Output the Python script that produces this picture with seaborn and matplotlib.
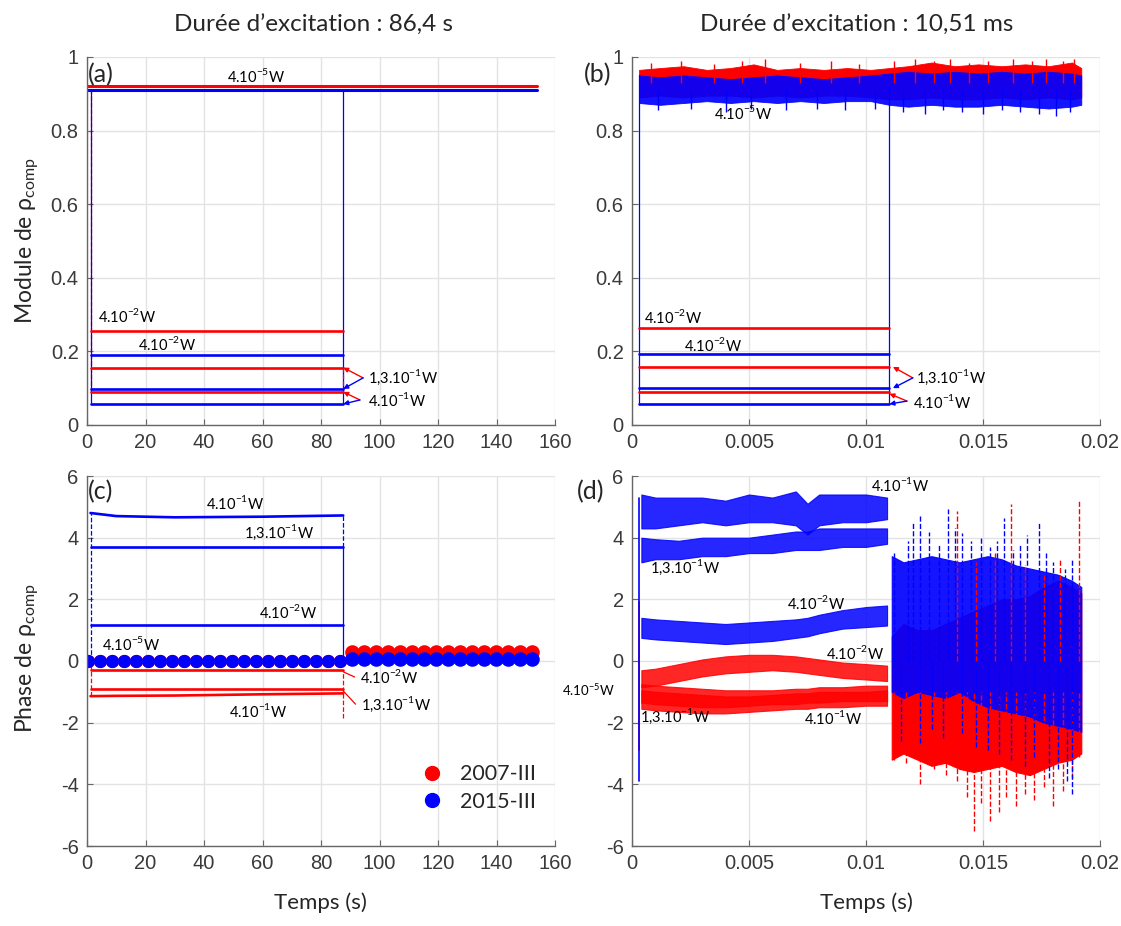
import numpy as np
import matplotlib
matplotlib.use('Agg')
import matplotlib.pyplot as plt
from matplotlib.lines import Line2D
import seaborn as sns

RED = '#ff0000'
BLUE = '#0000ff'

# ---- panel (a) : module, long excitation (levels order: 4e-5, 4e-2, 1.3e-1, 4e-1)
mod_a_red = [0.920, 0.256, 0.156, 0.090]
mod_a_blue = [0.910, 0.190, 0.098, 0.057]
t_on_a, t_off_a, t_end_a = 1.2, 87.6, 153.8

# ---- panel (b) : module, short excitation
mod_b_red = [0.930, 0.263, 0.158, 0.090]
mod_b_blue = [0.915, 0.193, 0.100, 0.057]
t_on_b, t_off_b, t_end_b = 0.0003, 0.0110, 0.0192
t_b_noise = [0.0003, 0.0012, 0.0022, 0.0032, 0.0042, 0.0052, 0.0062, 0.0072, 0.0082, 0.0092, 0.0102,
             0.0110, 0.0118, 0.0128, 0.0138, 0.0148, 0.0158, 0.0168, 0.0178, 0.0188, 0.0192]
red_b_hi = [0.965, 0.97, 0.975, 0.965, 0.97, 0.98, 0.965, 0.97, 0.965, 0.97, 0.965,
            0.97, 0.975, 0.985, 0.975, 0.98, 0.975, 0.98, 0.975, 0.985, 0.97]
red_b_lo = [0.89, 0.895, 0.89, 0.895, 0.895, 0.89, 0.895, 0.89, 0.895, 0.895, 0.89,
            0.885, 0.885, 0.89, 0.885, 0.885, 0.89, 0.885, 0.89, 0.885, 0.89]
blue_b_hi = [0.95, 0.945, 0.95, 0.945, 0.94, 0.945, 0.95, 0.945, 0.94, 0.945, 0.95,
             0.955, 0.96, 0.955, 0.96, 0.955, 0.96, 0.955, 0.96, 0.955, 0.95]
blue_b_lo = [0.875, 0.87, 0.875, 0.88, 0.875, 0.88, 0.875, 0.88, 0.875, 0.88, 0.88,
             0.87, 0.865, 0.87, 0.865, 0.865, 0.87, 0.865, 0.86, 0.865, 0.87]
b_spk_red_t = [0.0008, 0.0021, 0.0035, 0.0047, 0.0057, 0.0072, 0.0085, 0.0097, 0.0112, 0.0121,
               0.0129, 0.0136, 0.0144, 0.0152, 0.0163, 0.0171, 0.0177, 0.0184, 0.0189]
b_spk_red = [0.985, 0.99, 0.98, 0.99, 0.995, 0.985, 0.99, 0.98, 0.99, 0.995,
             0.99, 0.995, 0.985, 0.99, 0.995, 0.99, 0.995, 0.99, 0.995]
b_spk_blue_t = [0.0011, 0.0025, 0.0040, 0.0051, 0.0066, 0.0079, 0.0091, 0.0104, 0.0116, 0.0125,
                0.0133, 0.0141, 0.0150, 0.0158, 0.0166, 0.0174, 0.0181, 0.0187]
b_spk_blue = [0.855, 0.86, 0.85, 0.86, 0.855, 0.86, 0.855, 0.86, 0.85, 0.845,
              0.855, 0.85, 0.845, 0.855, 0.85, 0.845, 0.84, 0.85]

# ---- panel (c) : phase, long excitation
t_c_knots = [1.2, 10, 30, 60, 87.6]
ph_c_blue_4e1 = [4.80, 4.70, 4.66, 4.68, 4.72]
ph_c_blue = {'1.3e-1': 3.69, '4e-2': 1.18}
ph_c_red_4e1 = [-1.14, -1.13, -1.12, -1.08, -1.05]
ph_c_red = {'4e-2': -0.29, '1.3e-1': -0.90}
ph_c_red_dip = -1.84
t_c_circles = np.arange(0.5, 154, 4.1)
ph_c_4e5_before = {'red': 0.0, 'blue': 0.0}
ph_c_4e5_after = {'red': 0.30, 'blue': 0.08}

# ---- panel (d) : phase, short excitation (bands)
t_d = [0.0004, 0.001, 0.002, 0.003, 0.004, 0.005, 0.006, 0.007, 0.0075, 0.008, 0.009, 0.010, 0.0109]
d_blue_4e1_hi = [5.4, 5.3, 5.3, 5.3, 5.2, 5.4, 5.3, 5.5, 5.1, 5.4, 5.4, 5.4, 5.3]
d_blue_4e1_lo = [4.3, 4.3, 4.4, 4.5, 4.4, 4.5, 4.5, 4.4, 4.1, 4.4, 4.5, 4.5, 4.6]
d_blue_13_hi = [4.0, 3.95, 3.9, 4.0, 4.0, 4.0, 4.1, 4.2, 4.2, 4.3, 4.3, 4.3, 4.3]
d_blue_13_lo = [3.2, 3.3, 3.3, 3.4, 3.4, 3.5, 3.5, 3.6, 3.6, 3.6, 3.7, 3.7, 3.8]
d_blue_4e2_hi = [1.4, 1.35, 1.3, 1.25, 1.2, 1.25, 1.3, 1.35, 1.4, 1.5, 1.65, 1.75, 1.8]
d_blue_4e2_lo = [0.75, 0.7, 0.65, 0.6, 0.55, 0.6, 0.65, 0.75, 0.8, 0.9, 1.05, 1.1, 1.15]
d_red_4e2_hi = [-0.3, -0.25, -0.1, 0.05, 0.15, 0.2, 0.2, 0.15, 0.1, 0.05, -0.05, -0.1, -0.15]
d_red_4e2_lo = [-0.85, -0.8, -0.65, -0.5, -0.4, -0.35, -0.3, -0.35, -0.4, -0.45, -0.55, -0.6, -0.65]
d_red_13_hi = [-0.75, -0.8, -0.85, -0.9, -0.95, -0.95, -0.95, -0.9, -0.9, -0.85, -0.85, -0.8, -0.8]
d_red_13_lo = [-1.35, -1.4, -1.45, -1.5, -1.5, -1.45, -1.4, -1.4, -1.35, -1.35, -1.3, -1.3, -1.3]
d_red_4e1_hi = [-0.95, -1.0, -1.05, -1.1, -1.15, -1.15, -1.1, -1.05, -1.05, -1.0, -1.0, -1.0, -0.95]
d_red_4e1_lo = [-1.55, -1.6, -1.65, -1.7, -1.7, -1.65, -1.6, -1.55, -1.55, -1.5, -1.5, -1.45, -1.45]

t_chaos = [0.0111, 0.0116, 0.0122, 0.0128, 0.0134, 0.0140, 0.0146, 0.0152, 0.0158, 0.0164,
           0.0170, 0.0176, 0.0182, 0.0188, 0.0192]
blue_core_hi = [3.4, 3.2, 3.3, 3.4, 3.3, 3.2, 3.3, 3.4, 3.3, 3.1, 3.0, 2.9, 2.8, 2.6, 2.4]
blue_core_lo = [-1.0, -1.2, -1.0, -1.1, -1.2, -1.0, -1.3, -1.5, -1.6, -1.7, -1.8, -2.0, -2.1, -2.2, -2.3]
red_core_hi = [0.8, 1.2, 1.0, 1.0, 1.2, 1.4, 1.6, 1.8, 2.0, 2.0, 2.1, 2.4, 2.6, 2.4, 2.2]
red_core_lo = [-3.2, -3.0, -3.2, -3.4, -3.3, -3.5, -3.6, -3.5, -3.4, -3.6, -3.7, -3.5, -3.3, -3.2, -3.0]

blue_spk_top_t = [0.0112, 0.0118, 0.0120, 0.0123, 0.0127, 0.0131, 0.0135, 0.0138, 0.0141, 0.0145, 0.0149,
                  0.0153, 0.0156, 0.0159, 0.0163, 0.0166, 0.0169, 0.0174, 0.0177, 0.0180, 0.0185, 0.0188]
blue_spk_top = [3.5, 3.9, 4.49, 4.77, 4.2, 3.8, 4.93, 4.3, 4.15, 3.9, 4.03,
                3.7, 3.9, 4.65, 3.6, 3.8, 4.09, 4.52, 3.5, 3.22, 3.0, 3.34]
blue_spk_bot_t = [0.0115, 0.0123, 0.0128, 0.0133, 0.0141, 0.0147, 0.0152, 0.0157, 0.0162, 0.0168,
                  0.0172, 0.0178, 0.0182, 0.0186, 0.0188]
blue_spk_bot = [-2.6, -2.67, -2.2, -2.5, -2.34, -2.8, -2.9, -3.0, -3.2, -3.4, -3.1, -3.8, -3.5, -3.9, -4.3]
red_spk_top_t = [0.0139, 0.0147, 0.0155, 0.0162, 0.0168, 0.0176, 0.0183, 0.0191]
red_spk_top = [4.87, 3.2, 3.5, 5.08, 3.1, 2.8, 3.3, 5.19]
red_spk_bot_t = [0.0112, 0.0117, 0.0123, 0.0129, 0.0134, 0.0139, 0.0143, 0.0146, 0.0149, 0.0153,
                 0.0157, 0.0160, 0.0164, 0.0168, 0.0172, 0.0176, 0.0180, 0.0184, 0.0188, 0.0191]
red_spk_bot = [-3.2, -3.3, -4.0, -3.5, -3.7, -3.9, -4.4, -5.5, -4.6, -5.2,
               -4.9, -4.4, -4.7, -4.3, -4.5, -4.1, -4.7, -4.2, -3.8, -3.1]
d_start_blue = (-3.9, 5.3)
d_start_red = (-2.9, 1.9)


def sup(base, exp):
    return base + r'$^{\mathregular{' + exp + '}}$W'


sns.set_theme(style='whitegrid')
plt.rcParams['font.family'] = ['Liberation Sans', 'DejaVu Sans']
plt.rcParams['axes.unicode_minus'] = False
plt.rcParams['mathtext.fontset'] = 'dejavusans'
TXT = ['Lato', 'DejaVu Sans']
TICK = 'Liberation Sans'

fig = plt.figure(figsize=(11.21, 9.26), dpi=100)
W, H = 1121, 926


def make_ax(left, top, right, bottom):
    return fig.add_axes([left / W, 1 - bottom / H, (right - left) / W, (bottom - top) / H])


ax_a = make_ax(87, 57, 555, 425)
ax_b = make_ax(632, 57, 1100, 425)
ax_c = make_ax(87, 476, 555, 846)
ax_d = make_ax(632, 476, 1100, 846)

for ax in (ax_a, ax_b, ax_c, ax_d):
    ax.set_facecolor('white')
    ax.grid(True, color='#e3e3e3', lw=1)
    for s in ('top', 'right'):
        ax.spines[s].set_visible(False)
    for s in ('left', 'bottom'):
        ax.spines[s].set_color('#666666')
        ax.spines[s].set_linewidth(1)
    ax.tick_params(direction='in', length=4, width=0.8, color='#666666', labelsize=14.5,
                   labelcolor='#3a3a3a', bottom=True, left=True, pad=6)


def hline(ax, t0, t1, v, color, lw=1.9, ls='-'):
    sns.lineplot(x=[t0, t1], y=[v, v], ax=ax, color=color, lw=lw, ls=ls, estimator=None, legend=False)


def vline(ax, t, v0, v1, color, lw=0.9, ls='-'):
    ax.plot([t, t], [v0, v1], color=color, lw=lw, ls=ls)


def arrow(ax, base, tip, color):
    ax.annotate('', xy=tip, xytext=base,
                arrowprops=dict(arrowstyle='-|>', color=color, lw=1, mutation_scale=7,
                                shrinkA=0, shrinkB=0))


def label(ax, x, y, s, ha='center', fs=10.5):
    ax.text(x, y, s, ha=ha, va='center', fontsize=fs, family=TXT, color='black')


# ---------------- (a)
vline(ax_a, t_on_a, min(mod_a_red), max(mod_a_red), RED, ls='--')
vline(ax_a, t_on_a, min(mod_a_blue), max(mod_a_blue), BLUE)
vline(ax_a, t_off_a, min(mod_a_blue), max(mod_a_blue), BLUE)
vline(ax_a, t_off_a, mod_a_red[3], mod_a_red[2], RED, ls='--')
hline(ax_a, 0, t_end_a, mod_a_red[0], RED, lw=2.2)
hline(ax_a, 0, t_end_a, mod_a_blue[0], BLUE, lw=2.2)
for v in mod_a_red[1:]:
    hline(ax_a, t_on_a, t_off_a, v, RED)
for v in mod_a_blue[1:]:
    hline(ax_a, t_on_a, t_off_a, v, BLUE)
label(ax_a, 58, 0.948, sup('4.10', '-5'))
label(ax_a, 13.7, 0.296, sup('4.10', '-2'))
label(ax_a, 27.4, 0.22, sup('4.10', '-2'))
label(ax_a, 96.0, 0.130, sup('1,3.10', '-1'), ha='left')
label(ax_a, 96.0, 0.068, sup('4.10', '-1'), ha='left')
arrow(ax_a, (94.4, 0.128), (t_off_a, mod_a_red[2]), RED)
arrow(ax_a, (94.4, 0.128), (t_off_a, mod_a_blue[2]), BLUE)
arrow(ax_a, (93.3, 0.068), (t_off_a, mod_a_red[3]), RED)
arrow(ax_a, (93.3, 0.068), (t_off_a, mod_a_blue[3]), BLUE)

# ---------------- (b)
vline(ax_b, t_on_b, min(mod_b_blue), 0.95, BLUE)
vline(ax_b, t_off_b, min(mod_b_blue), 0.92, BLUE)
ax_b.vlines(b_spk_red_t, 0.93, b_spk_red, color=RED, lw=1.0)
ax_b.fill_between(t_b_noise, red_b_lo, red_b_hi, color=RED, lw=0.6)
ax_b.vlines(b_spk_blue_t, b_spk_blue, 0.91, color=BLUE, lw=1.0)
ax_b.fill_between(t_b_noise, blue_b_lo, blue_b_hi, color=BLUE, lw=0.6, alpha=0.92)
for v in mod_b_red[1:]:
    hline(ax_b, t_on_b, t_off_b, v, RED)
for v in mod_b_blue[1:]:
    hline(ax_b, t_on_b, t_off_b, v, BLUE)
label(ax_b, 0.00474, 0.848, sup('4.10', '-5'))
label(ax_b, 0.00175, 0.293, sup('4.10', '-2'))
label(ax_b, 0.00346, 0.217, sup('4.10', '-2'))
label(ax_b, 0.01214, 0.130, sup('1,3.10', '-1'), ha='left')
label(ax_b, 0.01200, 0.0625, sup('4.10', '-1'), ha='left')
arrow(ax_b, (0.0120, 0.128), (0.01115, mod_b_red[2]), RED)
arrow(ax_b, (0.0120, 0.128), (0.01115, mod_b_blue[2]), BLUE)
arrow(ax_b, (0.01175, 0.065), (0.0110, mod_b_red[3] - 0.005), RED)
arrow(ax_b, (0.01175, 0.065), (0.0110, mod_b_blue[3]), BLUE)

# ---------------- (c)
vline(ax_c, t_on_a, 0, ph_c_blue_4e1[0], BLUE, ls='--')
vline(ax_c, t_off_a, 0, ph_c_blue['1.3e-1'], BLUE)
vline(ax_c, t_off_a, ph_c_blue['1.3e-1'], ph_c_blue_4e1[-1], BLUE, ls='--')
vline(ax_c, t_on_a, ph_c_red_4e1[0], 0, RED, ls='--')
vline(ax_c, t_off_a, ph_c_red_dip, ph_c_red['4e-2'], RED, ls='--')
sns.lineplot(x=t_c_knots, y=ph_c_blue_4e1, ax=ax_c, color=BLUE, lw=1.9, estimator=None, legend=False)
sns.lineplot(x=t_c_knots, y=ph_c_red_4e1, ax=ax_c, color=RED, lw=1.9, estimator=None, legend=False)
for v in ph_c_blue.values():
    hline(ax_c, t_on_a, t_off_a, v, BLUE)
for v in ph_c_red.values():
    hline(ax_c, t_on_a, t_off_a, v, RED)
tb = t_c_circles[t_c_circles < t_off_a]
ta = t_c_circles[t_c_circles > t_off_a]
for col, key in ((RED, 'red'), (BLUE, 'blue')):
    sns.lineplot(x=tb, y=np.full(len(tb), ph_c_4e5_before[key]), ax=ax_c, color=col, lw=1.5,
                 marker='o', markersize=9.5, markeredgewidth=0, estimator=None, legend=False)
for col, key in ((RED, 'red'), (BLUE, 'blue')):
    sns.lineplot(x=ta, y=np.full(len(ta), ph_c_4e5_after[key]), ax=ax_c, color=col, lw=1.5,
                 marker='o', markersize=10.5, markeredgewidth=0, estimator=None, legend=False)
label(ax_c, 50.6, 5.13, sup('4.10', '-1'))
label(ax_c, 65.6, 4.16, sup('1,3.10', '-1'))
label(ax_c, 68.8, 1.60, sup('4.10', '-2'))
label(ax_c, 15.0, 0.55, sup('4.10', '-5'))
label(ax_c, 93.3, -0.52, sup('4.10', '-2'), ha='left')
label(ax_c, 93.6, -1.40, sup('1,3.10', '-1'), ha='left')
label(ax_c, 58.5, -1.62, sup('4.10', '-1'))
ax_c.plot([t_off_a, 91.5], [-0.35, -0.52], color=RED, lw=0.9)
ax_c.plot([t_off_a, 91.8], [-0.97, -1.40], color=RED, lw=0.9)
handles = [Line2D([], [], ls='', marker='o', color=RED, markersize=10),
           Line2D([], [], ls='', marker='o', color=BLUE, markersize=10)]
ax_c.legend(handles, ['2007-III', '2015-III'], loc='lower right', bbox_to_anchor=(1.0, 0.04),
            frameon=False, handletextpad=0.3, labelspacing=0.35,
            prop={'family': TXT, 'size': 15.5})

# ---------------- (d)
vline(ax_d, t_on_b, *d_start_red, RED, lw=1.2)
vline(ax_d, t_on_b, *d_start_blue, BLUE, lw=1.2)
bands = [(d_red_4e2_lo, d_red_4e2_hi, RED), (d_red_13_lo, d_red_13_hi, RED),
         (d_red_4e1_lo, d_red_4e1_hi, RED), (d_blue_4e2_lo, d_blue_4e2_hi, BLUE),
         (d_blue_13_lo, d_blue_13_hi, BLUE), (d_blue_4e1_lo, d_blue_4e1_hi, BLUE)]
for lo, hi, col in bands:
    ax_d.fill_between(t_d, lo, hi, color=col, lw=0.8, alpha=0.85)
ax_d.vlines(red_spk_top_t, 0, red_spk_top, color=RED, lw=1.0, linestyles='--')
ax_d.vlines(red_spk_bot_t, red_spk_bot, -1.0, color=RED, lw=1.0, linestyles='--')
ax_d.fill_between(t_chaos, red_core_lo, red_core_hi, color=RED, lw=0.8)
ax_d.vlines(blue_spk_top_t, 0, blue_spk_top, color=BLUE, lw=1.0, linestyles='--')
ax_d.vlines(blue_spk_bot_t, blue_spk_bot, 0, color=BLUE, lw=1.0, linestyles='--')
ax_d.fill_between(t_chaos, blue_core_lo, blue_core_hi, color=BLUE, lw=0.8, alpha=0.92)
label(ax_d, 0.01148, 5.71, sup('4.10', '-1'))
label(ax_d, 0.00226, 3.05, sup('1,3.10', '-1'))
label(ax_d, 0.00789, 1.89, sup('4.10', '-2'))
label(ax_d, 0.00954, 0.27, sup('4.10', '-2'))
label(ax_d, 0.00184, -1.80, sup('1,3.10', '-1'))
label(ax_d, 0.00861, -1.86, sup('4.10', '-1'))
label(ax_d, -0.00184, -0.94, sup('4.10', '-5'), fs=9.5)

# axes limits / ticks
for ax in (ax_a, ax_c):
    ax.set_xlim(0, 160)
    ax.set_xticks(range(0, 161, 20))
for ax in (ax_b, ax_d):
    ax.set_xlim(0, 0.02)
    ax.set_xticks([0, 0.005, 0.01, 0.015, 0.02])
    ax.set_xticklabels(['0', '0.005', '0.01', '0.015', '0.02'])
for ax in (ax_a, ax_b):
    ax.set_ylim(0, 1)
    ax.set_yticks([0, 0.2, 0.4, 0.6, 0.8, 1])
    ax.set_yticklabels(['0', '0.2', '0.4', '0.6', '0.8', '1'])
for ax in (ax_c, ax_d):
    ax.set_ylim(-6, 6)
    ax.set_yticks(range(-6, 7, 2))
    ax.set_yticklabels([str(v) for v in range(-6, 7, 2)])
for ax in (ax_a, ax_b, ax_c, ax_d):
    ax.set_xlabel('')
    ax.set_ylabel('')
    for t in ax.get_xticklabels() + ax.get_yticklabels():
        t.set_fontfamily(TICK)

# figure texts
fig.text(313 / W, 1 - 25 / H, "Durée d\u2019excitation : 86,4 s", ha='center', va='center',
         fontsize=17.5, family=TXT)
fig.text(857 / W, 1 - 25 / H, "Durée d\u2019excitation : 10,51 ms", ha='center', va='center',
         fontsize=17.5, family=TXT)
fig.text(320 / W, 1 - 903 / H, 'Temps (s)', ha='center', va='center', fontsize=16, family=TXT)
fig.text(866 / W, 1 - 903 / H, 'Temps (s)', ha='center', va='center', fontsize=16, family=TXT)
fig.text(28 / W, 1 - 240 / H, r'Module de ρ$_{\mathregular{comp}}$', ha='center', va='center',
         rotation=90, fontsize=16.5, family=TXT)
fig.text(28 / W, 1 - 658 / H, r'Phase de ρ$_{\mathregular{comp}}$', ha='center', va='center',
         rotation=90, fontsize=16.5, family=TXT)
for s, x, y in (('(a)', 101, 75), ('(b)', 598, 75), ('(c)', 101, 492), ('(d)', 591, 492)):
    fig.text(x / W, 1 - y / H, s, ha='center', va='center', fontsize=18, family=TXT)

fig.savefig('out.png', dpi=100)
